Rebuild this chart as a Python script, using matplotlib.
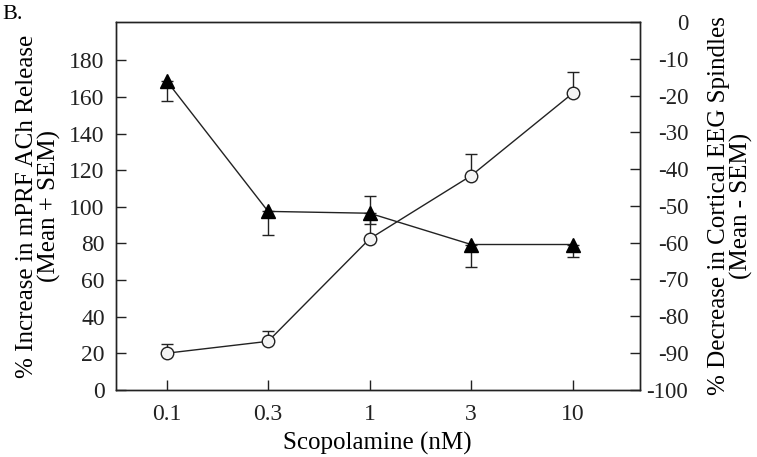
import matplotlib.pyplot as plt
import numpy as np

plt.rcParams['font.family'] = ['Liberation Serif', 'DejaVu Serif']
plt.rcParams['axes.unicode_minus'] = False

doses = ['0.1', '0.3', '1', '3', '10']

# mPRF ACh release, % increase (left axis), error up
ach_mean = [20, 26.5, 82.5, 117, 162]
ach_sem = [5, 5.5, 23.5, 12, 11.5]

# cortical EEG spindles, % decrease (right axis), error down
eeg_mean = [-16, -51.5, -52, -60.5, -60.5]
eeg_sem = [5.5, 6.5, 3, 6, 3.5]

x = np.arange(len(doses))
ink = '#222222'
fs = 18

fig = plt.figure(figsize=(7.57, 4.57), dpi=100)
ax = fig.add_axes([0.153, 0.147, 0.692, 0.805])

ax.errorbar(x, ach_mean, yerr=[np.zeros(len(x)), ach_sem], color=ink, lw=1.0,
            marker='o', ms=9, mfc='#f4f4f4', mec=ink, mew=1.0,
            capsize=4, elinewidth=1.0, capthick=1.0, zorder=3)
ax.set_xlim(-0.5, 4.66)
ax.set_ylim(0, 201)
ax.set_yticks(np.arange(0, 181, 20))
ax.set_xticks(x)
ax.set_xticklabels(doses)
ax.set_xlabel('Scopolamine (nM)', fontsize=fs, labelpad=5)
ax.set_ylabel('% Increase in mPRF ACh Release\n(Mean + SEM)', fontsize=fs,
              linespacing=1.0, labelpad=6)

ax2 = ax.twinx()
ax2.errorbar(x, eeg_mean, yerr=[eeg_sem, np.zeros(len(x))], color=ink, lw=1.0,
             marker='^', ms=10, mfc='black', mec='black',
             capsize=4, elinewidth=1.0, capthick=1.0, zorder=3)
ax2.set_ylim(-100, 0)
ax2.set_yticks(np.arange(-100, 1, 10))
ax2.set_ylabel('% Decrease in Cortical EEG Spindles\n(Mean - SEM)', fontsize=fs,
               linespacing=1.0, labelpad=14)

for a in (ax, ax2):
    a.tick_params(direction='in', length=7, width=1.0, labelsize=fs - 1, colors=ink)
    for s in a.spines.values():
        s.set_color(ink)
        s.set_linewidth(1.0)
ax.tick_params(axis='x', pad=10)
ax.tick_params(axis='y', pad=8)
ax2.tick_params(axis='y', pad=35, labelsize=fs - 1.5)
for lab in ax2.get_yticklabels():
    lab.set_horizontalalignment('right')

fig.text(0.003, 0.958, 'B.', fontsize=16, va='baseline')

fig.savefig('out.png', dpi=100)
